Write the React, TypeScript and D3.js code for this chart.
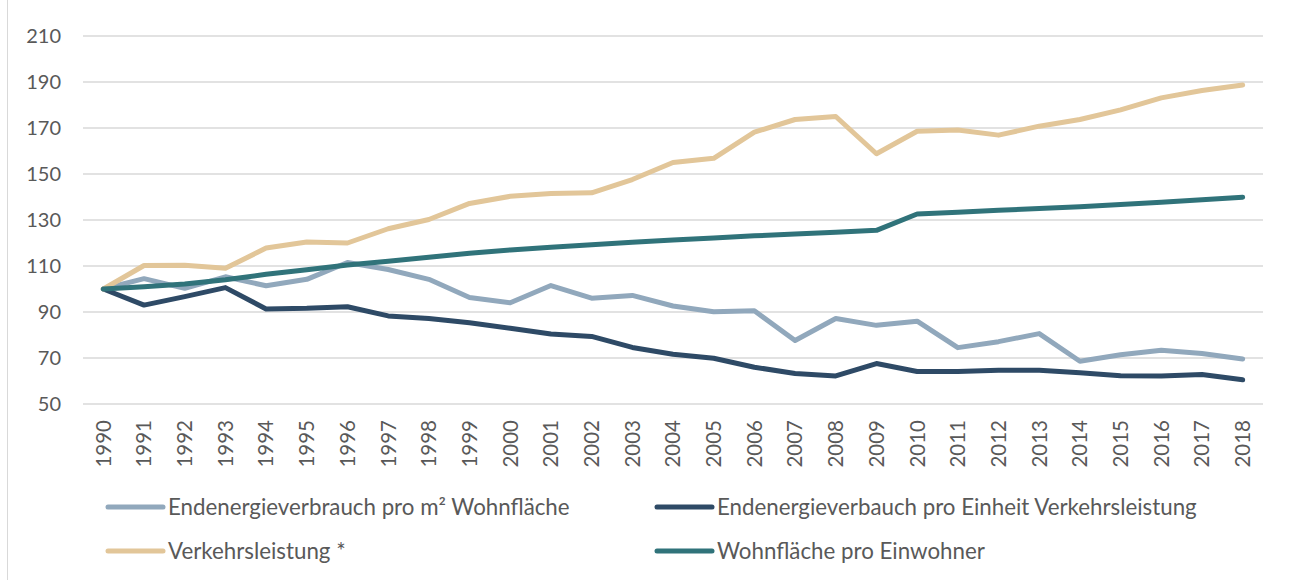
import React, { useEffect, useRef } from 'react';
import * as d3 from 'd3';

const YEARS = [
  1990, 1991, 1992, 1993, 1994, 1995, 1996, 1997, 1998, 1999, 2000, 2001, 2002, 2003, 2004,
  2005, 2006, 2007, 2008, 2009, 2010, 2011, 2012, 2013, 2014, 2015, 2016, 2017, 2018,
];

// Endenergieverbrauch pro m² Wohnfläche
const ENERGY_PER_M2 = [
  100, 104.5, 100.3, 105.3, 101.4, 104.2, 111.5, 108.5, 104.2, 96.3, 94, 101.5, 96, 97.2, 92.6,
  90.1, 90.5, 77.6, 87.2, 84.2, 86, 74.5, 77.1, 80.6, 68.6, 71.4, 73.4, 72, 69.6,
];

// Endenergieverbauch pro Einheit Verkehrsleistung
const ENERGY_PER_TRAFFIC = [
  100, 93, 96.7, 100.6, 91.3, 91.6, 92.3, 88.3, 87.2, 85.3, 82.9, 80.4, 79.4, 74.6, 71.6,
  69.9, 66, 63.3, 62.2, 67.6, 64.1, 64.1, 64.7, 64.7, 63.6, 62.3, 62.2, 62.8, 60.5,
];

// Verkehrsleistung *
const TRAFFIC = [
  100, 110.2, 110.3, 109, 117.8, 120.4, 120, 126.2, 130.2, 137.2, 140.3, 141.5, 141.8, 147.6, 155,
  156.8, 168.2, 173.7, 175, 158.8, 168.6, 169.1, 166.9, 170.8, 173.7, 177.9, 183.1, 186.3, 188.7,
];

// Wohnfläche pro Einwohner
const LIVING_SPACE = [
  100, 101, 102.2, 104, 106.4, 108.4, 110.4, 112.1, 113.8, 115.5, 117, 118.2, 119.2, 120.3, 121.3,
  122.2, 123.1, 123.9, 124.7, 125.5, 132.6, 133.4, 134.2, 135, 135.8, 136.7, 137.7, 138.8, 139.9,
];

const Y_TICKS = [50, 70, 90, 110, 130, 150, 170, 190, 210];

const SERIES = [
  { name: 'Endenergieverbrauch pro m² Wohnfläche', values: ENERGY_PER_M2, color: '#91a8bc' },
  { name: 'Endenergieverbauch pro Einheit Verkehrsleistung', values: ENERGY_PER_TRAFFIC, color: '#2e4a66' },
  { name: 'Verkehrsleistung *', values: TRAFFIC, color: '#e2c699' },
  { name: 'Wohnfläche pro Einwohner', values: LIVING_SPACE, color: '#30737a' },
];

const W = 1290;
const H = 580;
const FONT = 'Lato, "Open Sans", sans-serif';
const TEXT = '#595959';

export default function App() {
  const svgRef = useRef<SVGSVGElement>(null);

  useEffect(() => {
    if (!svgRef.current) return;
    const svg = d3.select(svgRef.current);
    svg.selectAll('*').remove();

    const left = 83;
    const right = 1263;
    const top = 36;
    const bottom = 404;

    const x = d3
      .scaleBand<number>()
      .domain(YEARS)
      .range([left, right]);
    const cx = (yr: number) => (x(yr) as number) + x.bandwidth() / 2;

    const y = d3.scaleLinear().domain([50, 210]).range([bottom, top]);

    // faint outer frame line on the left
    svg
      .append('line')
      .attr('x1', 7.5)
      .attr('x2', 7.5)
      .attr('y1', 0)
      .attr('y2', H)
      .attr('stroke', '#d9d9d9')
      .attr('stroke-width', 1);

    // grid
    svg
      .append('g')
      .selectAll('line')
      .data(Y_TICKS)
      .join('line')
      .attr('x1', left)
      .attr('x2', right)
      .attr('y1', (d) => y(d))
      .attr('y2', (d) => y(d))
      .attr('stroke', '#d9d9d9')
      .attr('stroke-width', 1.5);

    // y labels
    svg
      .append('g')
      .selectAll('text')
      .data(Y_TICKS)
      .join('text')
      .attr('x', 61)
      .attr('y', (d) => y(d))
      .attr('dy', '0.36em')
      .attr('text-anchor', 'end')
      .attr('font-family', FONT)
      .attr('font-size', '20px')
      .attr('fill', TEXT)
      .text((d) => d);

    // x labels, rotated
    svg
      .append('g')
      .selectAll('text')
      .data(YEARS)
      .join('text')
      .attr('transform', (d) => `translate(${cx(d)},420) rotate(-90)`)
      .attr('dy', '0.36em')
      .attr('text-anchor', 'end')
      .attr('font-family', FONT)
      .attr('font-size', '20.5px')
      .attr('fill', TEXT)
      .text((d) => d);

    const line = d3
      .line<number>()
      .x((_, i) => cx(YEARS[i]))
      .y((d) => y(d));

    SERIES.forEach((s) => {
      svg
        .append('path')
        .attr('d', line(s.values))
        .attr('fill', 'none')
        .attr('stroke', s.color)
        .attr('stroke-width', 5)
        .attr('stroke-linejoin', 'round')
        .attr('stroke-linecap', 'round');
    });

    // legend, 2 columns x 2 rows
    const legendPos = [
      { x: 108, y: 507 },
      { x: 657, y: 507 },
      { x: 108, y: 551 },
      { x: 657, y: 551 },
    ];
    SERIES.forEach((s, i) => {
      const p = legendPos[i];
      const g = svg.append('g').attr('transform', `translate(${p.x},${p.y})`);
      g.append('line')
        .attr('x1', 0)
        .attr('x2', 55)
        .attr('stroke', s.color)
        .attr('stroke-width', 5)
        .attr('stroke-linecap', 'round');
      g.append('text')
        .attr('x', 60)
        .attr('dy', '0.36em')
        .attr('font-family', FONT)
        .attr('font-size', '22.3px')
        .attr('fill', TEXT)
        .text(s.name);
    });
  }, []);

  return (
    <div style={{ position: 'fixed', left: 0, top: 0, width: W, height: H, background: '#fff' }}>
      <svg ref={svgRef} width={W} height={H} />
    </div>
  );
}
